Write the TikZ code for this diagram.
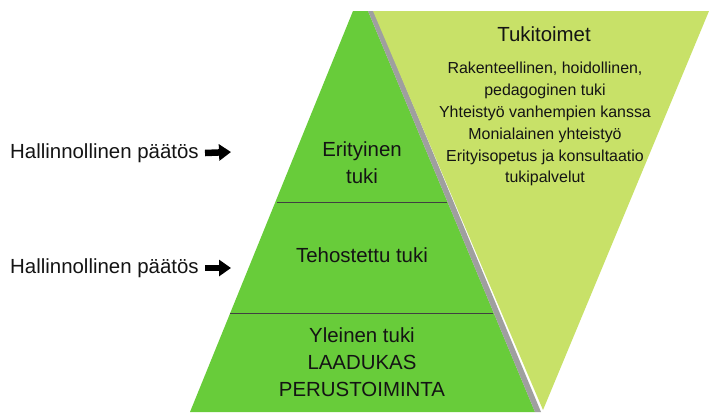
\documentclass[tikz,border=0pt]{standalone}
\usepackage{fontspec}
\setmainfont{Liberation Sans}
\usetikzlibrary{arrows.meta}
\definecolor{pyrgreen}{RGB}{104,204,58}
\definecolor{lightgreen}{RGB}{200,225,104}
\definecolor{txt}{RGB}{20,20,20}
\tikzset{
  lbl/.style={text=txt, align=center, inner sep=0pt},
  big/.style={lbl, font=\fontsize{20.5}{27}\selectfont},
  small/.style={lbl, font=\fontsize{16}{22}\selectfont},
  side/.style={lbl, font=\fontsize{20.5}{24}\selectfont, anchor=west},
  blockarrow/.style={line width=6.5bp, -{Triangle[length=12bp,width=16bp]}, black},
  divider/.style={draw=black!75, line width=0.8bp}
}
\begin{document}
\begin{tikzpicture}[x=1bp,y=-1bp]
\useasboundingbox (0,0) rectangle (709,412);
\fill[white] (0,0) rectangle (709,412);
% green pyramid (apex cut at the top)
\fill[pyrgreen] (353,11) -- (368,11) -- (535,412) -- (190,412) -- cycle;
% shadow along right edge
\fill[gray!75] (368,11) -- (374,11) -- (541,412) -- (535,412) -- cycle;
% light inverted triangle
\fill[lightgreen] (373,11) -- (709,11) -- (543,410) -- cycle;
% dividers
\draw[divider] (277,202) -- (447,202);
\draw[divider] (230,313) -- (493,313);
% pyramid texts
\node[big] (eri) at (362,163) {Erityinen\\tuki};
\node[big] (teh) at (362,255) {Tehostettu tuki};
\node[big] (yle) at (362,362) {Yleinen tuki\\LAADUKAS\\PERUSTOIMINTA};
% right texts
\node[big] (tuk) at (544,34) {Tukitoimet};
\node[small] (lst) at (545,124) {Rakenteellinen, hoidollinen,\\pedagoginen tuki\\Yhteistyö vanhempien kanssa\\Monialainen yhteistyö\\Erityisopetus ja konsultaatio\\tukipalvelut};
% left labels
\node[side] (h1) at (10,153) {Hallinnollinen päätös};
\node[side] (h2) at (10,268) {Hallinnollinen päätös};
\coordinate (a1) at (231,152);
\coordinate (a2) at (231,268);
\draw[blockarrow] (h1.east -| 205,0) -- (a1);
\draw[blockarrow] (h2.east -| 205,0) -- (a2);
\end{tikzpicture}
\end{document}
